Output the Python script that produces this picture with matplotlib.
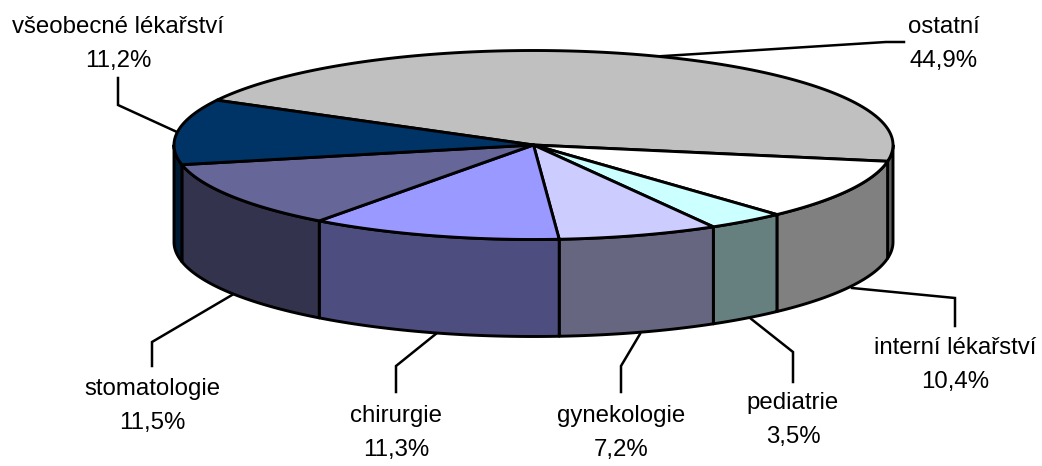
import numpy as np
import matplotlib

matplotlib.use("Agg")

import matplotlib.pyplot as plt

plt.rcParams["font.family"] = ["Liberation Sans", "DejaVu Sans"]

# clockwise from the start angle
categories = ["ostatní", "interní lékařství", "pediatrie", "gynekologie",
              "chirurgie", "stomatologie", "všeobecné lékařství"]
shares = [44.9, 10.4, 3.5, 7.2, 11.3, 11.5, 11.2]
share_labels = ["44,9%", "10,4%", "3,5%", "7,2%", "11,3%", "11,5%", "11,2%"]
top_colors = ["#C0C0C0", "#FFFFFF", "#CCFFFF", "#CCCCFF", "#9999FF", "#666699", "#003366"]
side_colors = ["#606060", "#808080", "#668080", "#666680", "#4D4D80", "#33334D", "#001A33"]

# label centre and leader line, in pixels
label_pos = [(944, 44), (955, 365), (793, 420), (621, 433), (396, 433), (152, 406), (118, 44)]
leaders = [
    [(648, 57), (886, 42), (904, 42)],
    [(852, 288), (955, 298), (955, 326)],
    [(750, 318), (793, 352), (793, 382)],
    [(640, 334), (621, 366), (621, 392)],
    [(437, 333), (396, 366), (396, 392)],
    [(232, 295), (152, 342), (152, 366)],
    [(177, 132), (118, 105), (118, 78)],
]

CX, CY = 533.5, 145.0
RX, RY = 359.5, 94.5
DEPTH = 97
START = 151.7
LW = 2.1


def rim(a0, a1, dy=0.0):
    t = np.radians(np.linspace(a0, a1, 200))
    return CX + RX * np.cos(t), CY + dy - RY * np.sin(t)


fig = plt.figure(figsize=(10.42, 4.66), dpi=100)
ax = fig.add_axes([0, 0, 1, 1])
ax.set_xlim(0, 1042)
ax.set_ylim(466, 0)
ax.axis("off")

# slice edges, going clockwise
edges = START - np.cumsum([0] + shares) * 3.6

# side walls first, only the part of the rim facing us (angles -180..0)
for i in range(len(shares)):
    a0, a1 = edges[i], edges[i + 1]
    for lo, hi in [(-180, 0), (-540, -360)]:
        s0, s1 = min(a0, hi), max(a1, lo)
        if s0 <= s1:
            continue
        x, y = rim(s0, s1)
        xb, yb = rim(s1, s0, DEPTH)
        ax.fill(np.r_[x, xb], np.r_[y, yb], facecolor=side_colors[i],
                edgecolor="black", linewidth=LW, joinstyle="round", zorder=2)

# top face
for i in range(len(shares)):
    x, y = rim(edges[i], edges[i + 1])
    ax.fill(np.r_[CX, x], np.r_[CY, y], facecolor=top_colors[i],
            edgecolor="black", linewidth=LW, joinstyle="round", zorder=3)

for pts in leaders:
    xs, ys = zip(*pts)
    ax.plot(xs, ys, color="black", linewidth=1.8, zorder=1, solid_joinstyle="miter")

for name, share, (lx, ly) in zip(categories, share_labels, label_pos):
    ax.text(lx, ly, f"{name}\n{share}", ha="center", va="center",
            fontsize=17.3, color="black", linespacing=1.65, zorder=4)

fig.savefig("out.png", dpi=100, facecolor="white")
